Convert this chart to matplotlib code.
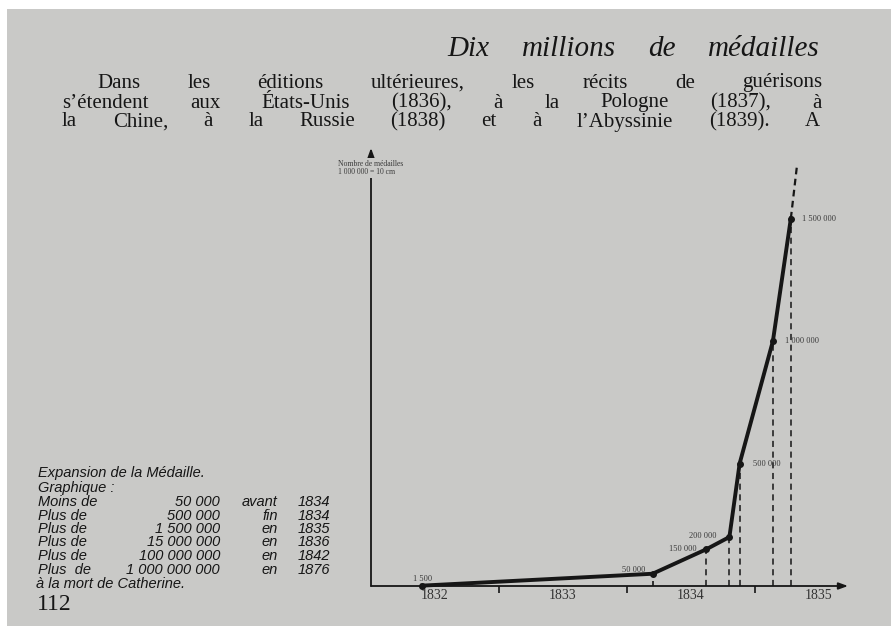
import matplotlib
matplotlib.use('Agg')
import matplotlib.pyplot as plt
from matplotlib.patches import Rectangle

# values: date (in years) and number of medals
dates = [1832.40, 1834.20, 1834.62, 1834.80, 1834.88, 1835.14, 1835.28]
medals = [1500, 50000, 150000, 200000, 500000, 1000000, 1500000]
proj_date, proj_medals = 1835.33, 1725000   # dashed continuation above the last point
year_labels = ['1832', '1833', '1834', '1835']

# caption table at the bottom left
qualifiers = ['Moins de', 'Plus de', 'Plus de', 'Plus de', 'Plus de', 'Plus  de']
amounts = ['50 000', '500 000', '1 500 000', '15 000 000', '100 000 000', '1 000 000 000']
when = ['avant', 'fin', 'en', 'en', 'en', 'en']
years = ['1834', '1834', '1835', '1836', '1842', '1876']

paragraph = [
    'Dans les éditions ultérieures, les récits de guérisons',
    "s\u2019étendent aux États-Unis (1836), à la Pologne (1837), à",
    "la Chine, à la Russie (1838) et à l\u2019Abyssinie (1839). A",
]

W, H = 891, 626
page = '#c9c9c7'
ink = '#161616'
serif = 'Liberation Serif'

fig = plt.figure(figsize=(W / 100, H / 100), dpi=100, facecolor='white')
fig.add_artist(Rectangle((7 / W, 0), 1, 1 - 9 / H, transform=fig.transFigure,
                         facecolor=page, edgecolor='none', zorder=-1))
renderer = fig.canvas.get_renderer()


def justify(line, x0, x1, y, **kw):
    # spread the words of one line between x0 and x1 (pixels)
    words = line.split()
    texts = [fig.text(0, 1 - y / H, w, va='center', **kw) for w in words]
    widths = [t.get_window_extent(renderer).width for t in texts]
    gap = (x1 - x0 - sum(widths)) / max(len(words) - 1, 1)
    x = x0
    for t, w in zip(texts, widths):
        t.set_x(x / W)
        x += w + gap


# heading and text of the page
justify('Dix millions de médailles', 447, 820, 49,
        family=serif, style='italic', fontsize=21, color=ink)
justify(paragraph[0], 97, 822, 83, family=serif, fontsize=15, color=ink)
justify(paragraph[1], 62, 822, 103, family=serif, fontsize=15, color=ink)
justify(paragraph[2], 62, 820, 122, family=serif, fontsize=15, color=ink)

# the graph
left, right, bottom, top = 371, 848, 586, 148
px_year, px_million = 128, 245
ax = fig.add_axes([left / W, 1 - bottom / H, (right - left) / W, (bottom - top) / H])
ax.set_xlim(1832, 1832 + (right - left) / px_year)
ax.set_ylim(0, (bottom - top) / px_million * 1e6)
ax.patch.set_visible(False)
for s in ax.spines.values():
    s.set_visible(False)

arr = dict(arrowstyle='-|>,head_length=0.55,head_width=0.2', color=ink, lw=1.3,
           shrinkA=0, shrinkB=0)
ax.annotate('', xy=(1, 0), xytext=(0, 0), xycoords='axes fraction',
            textcoords='axes fraction', arrowprops=arr, annotation_clip=False)
ax.annotate('', xy=(0, 1), xytext=(0, 0), xycoords='axes fraction',
            textcoords='axes fraction', arrowprops=arr, annotation_clip=False)

ax.set_xticks([int(y) + 1 for y in year_labels[:-1]], labels=[])
ax.set_xticks([int(y) + 0.5 for y in year_labels], labels=year_labels, minor=True)
ax.tick_params(axis='x', which='major', direction='out', length=5, width=1.2, color=ink)
ax.tick_params(axis='x', which='minor', length=0, pad=2, labelsize=10, labelcolor='#333333')
for lbl in ax.get_xticklabels(minor=True):
    lbl.set_family(serif)
ax.set_yticks([])

ax.vlines(dates[2:], 0, medals[2:], colors=ink, lw=1.1, linestyles=(0, (4, 3)))
ax.vlines(dates[1], 0, 20000, colors=ink, lw=1.2)
ax.plot([dates[-1], proj_date], [medals[-1], proj_medals], color=ink, lw=1.6,
        ls=(0, (3, 2)))
ax.plot(dates, medals, color=ink, lw=2.8, marker='o', ms=4, zorder=3, clip_on=False)

offsets = [(0, 7, 'center'), (-7, 4, 'right'), (-10, 0, 'right'), (-13, 1, 'right'),
           (13, 0, 'left'), (12, 0, 'left'), (11, -1, 'left')]
for d, v, (dx, dy, ha) in zip(dates, medals, offsets):
    ax.annotate(f'{v:,}'.replace(',', ' '), (d, v), xytext=(dx * 0.72, dy * 0.72),
                textcoords='offset points', ha=ha, va='center', fontsize=6,
                family=serif, color='#3a3a3a')

fig.text(338 / W, 1 - 168 / H, 'Nombre de médailles\n1 000 000 = 10 cm', fontsize=5.5,
         family=serif, color='#3a3a3a', va='center', ha='left', linespacing=1.1,
         bbox=dict(facecolor=page, edgecolor='none', pad=1), zorder=5)

# caption
cap = dict(family='Liberation Sans', style='italic', fontsize=10.5, color=ink, va='center')
fig.text(38 / W, 1 - 473 / H, 'Expansion de la Médaille.', **cap)
fig.text(38 / W, 1 - 488 / H, 'Graphique :', **cap)
for i, (q, a, w, y) in enumerate(zip(qualifiers, amounts, when, years)):
    yy = 1 - (502 + 13.5 * i) / H
    fig.text(38 / W, yy, q, **cap)
    fig.text(220 / W, yy, a, ha='right', **cap)
    fig.text(278 / W, yy, w, ha='right', **cap)
    fig.text(330 / W, yy, y, ha='right', **cap)
fig.text(36 / W, 1 - 584 / H, 'à la mort de Catherine.', **cap)

fig.text(37 / W, 1 - 605 / H, '112', family=serif, fontsize=17, color=ink, va='center')

fig.savefig('out.png', dpi=100, facecolor=fig.get_facecolor())
